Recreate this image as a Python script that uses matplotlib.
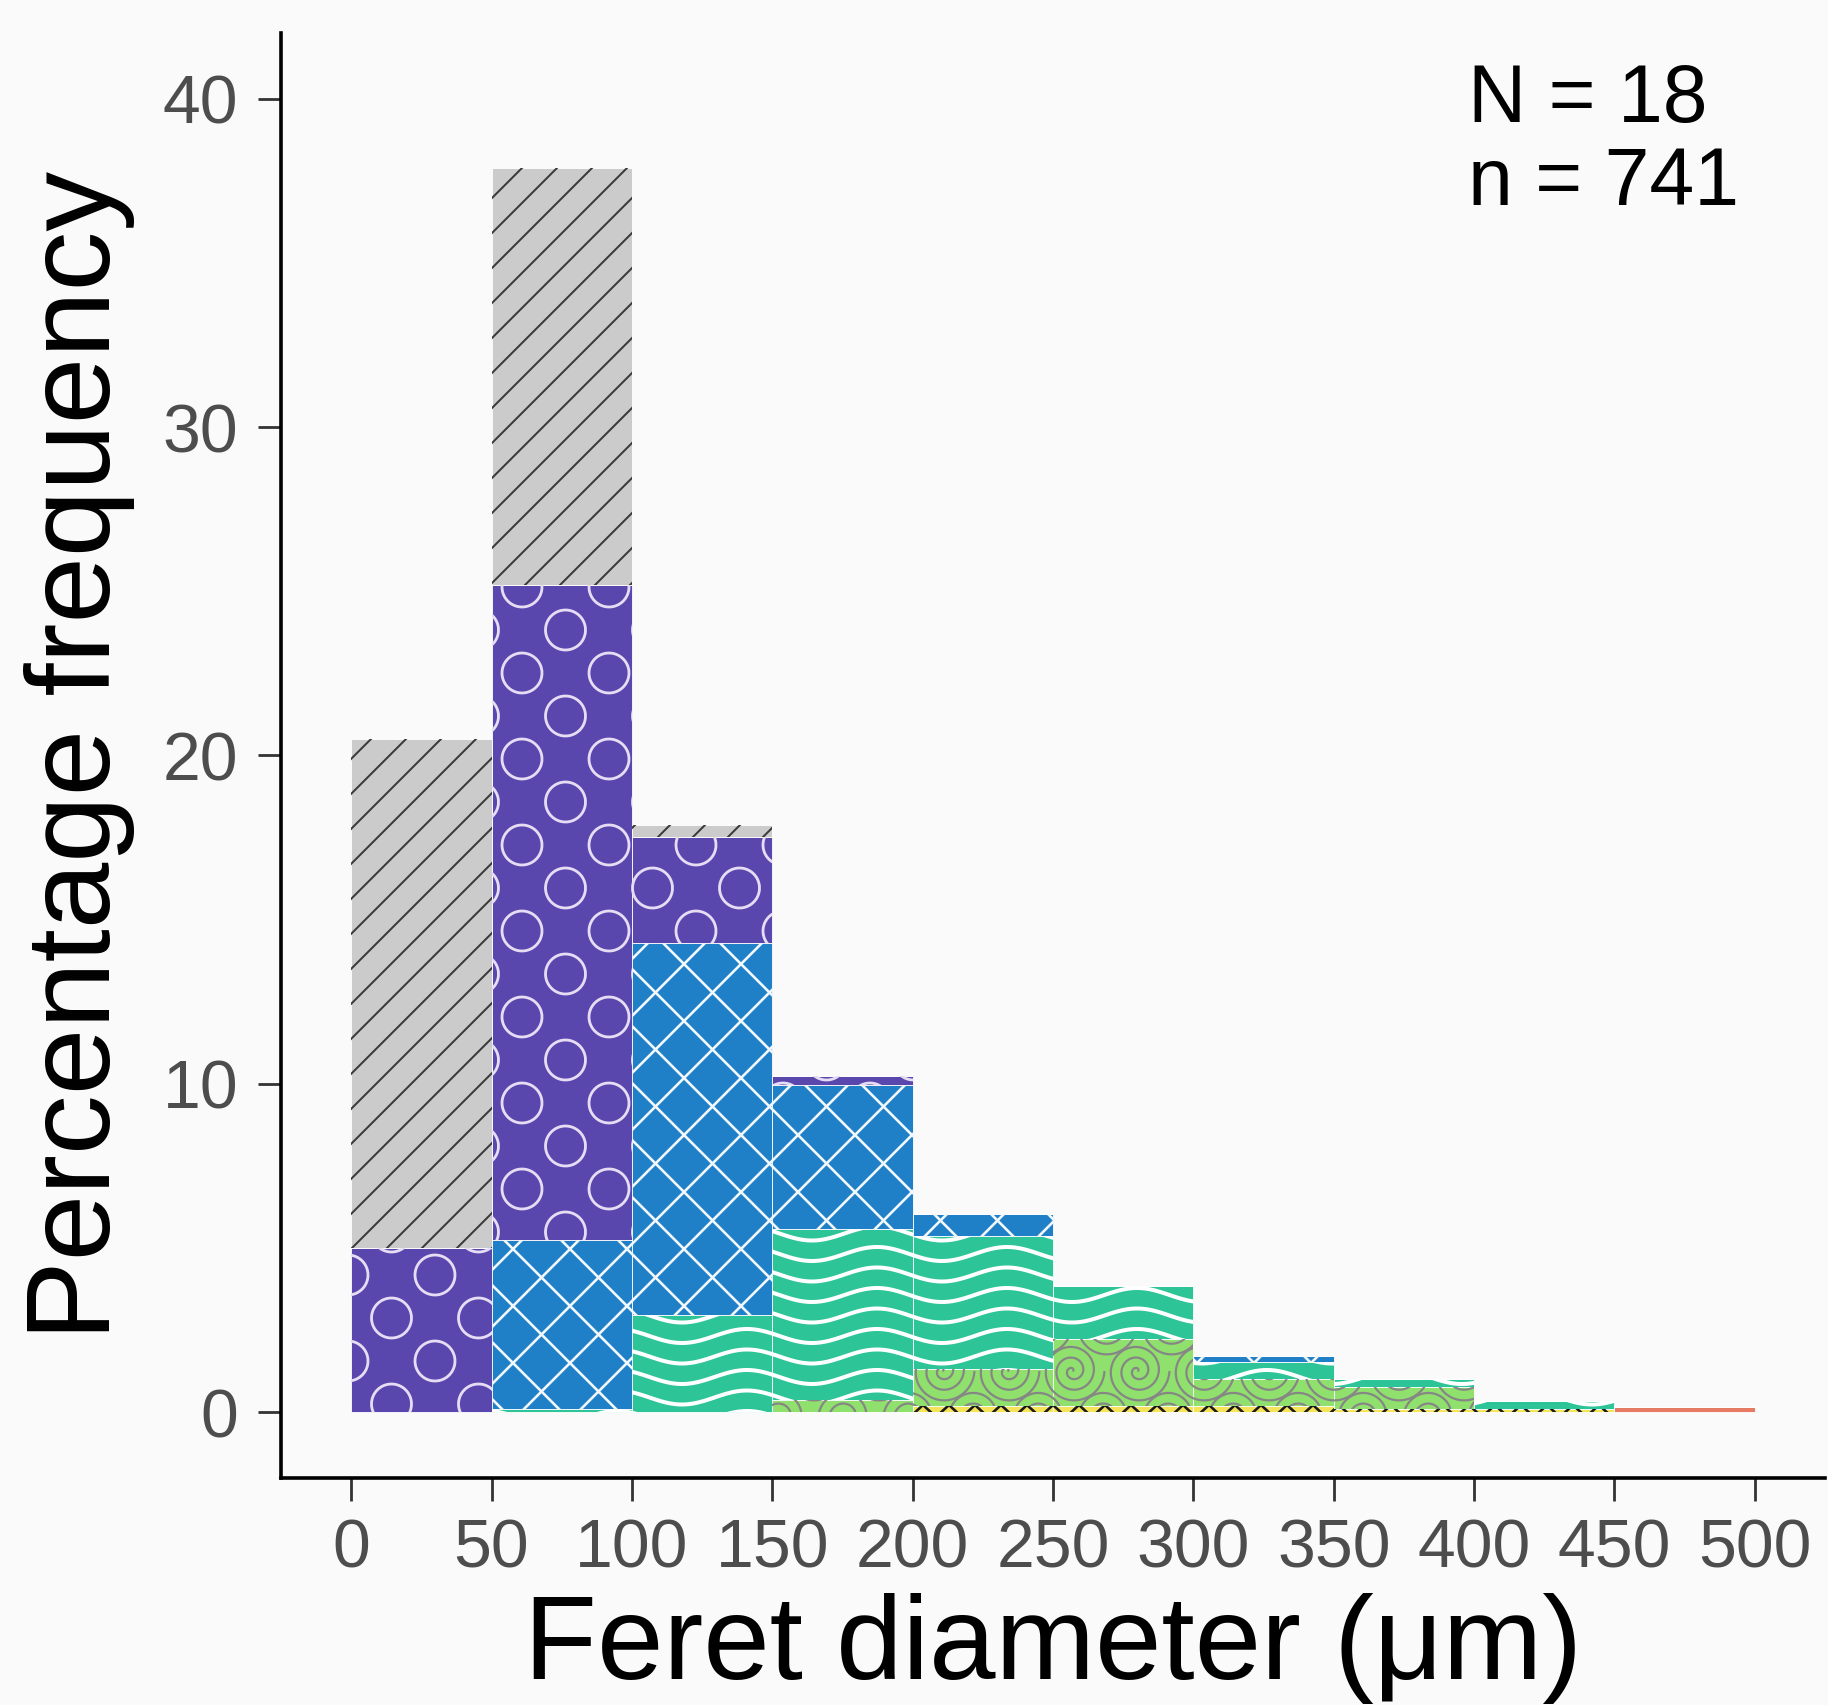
import numpy as np
import matplotlib as mpl
mpl.use('Agg')
import matplotlib.pyplot as plt
from matplotlib.collections import LineCollection
import matplotlib.transforms as mtransforms

plt.rcParams['font.family'] = ['Liberation Sans', 'DejaVu Sans']

# bins of Feret diameter (um)
bin_left = [0, 50, 100, 150, 200, 250, 300, 350, 400, 450]
bin_width = 50

# percentage frequency per class, stacked from bottom to top
red    = [0, 0, 0, 0, 0, 0, 0, 0, 0, 0.15]
yellow = [0, 0, 0, 0, 0.18, 0.18, 0.18, 0.1, 0.1, 0]
green  = [0, 0, 0, 0.38, 1.15, 2.06, 0.82, 0.68, 0, 0]
teal   = [0, 0.1, 2.97, 5.2, 4.04, 1.62, 0.53, 0.22, 0.24, 0]
blue   = [0, 5.14, 11.31, 4.4, 0.66, 0, 0.17, 0, 0, 0]
purple = [5.0, 19.96, 3.24, 0.25, 0, 0, 0, 0, 0, 0]
grey   = [15.5, 12.68, 0.37, 0, 0, 0, 0, 0, 0, 0]

N_samples = 18
n_particles = 741

# ---- pattern generators (pixel coordinates) ----
def pat_stripes(x0, y0, x1, y1, sp=35):
    segs = []
    c0 = np.floor((y0 - x1) / sp) * sp
    for c in np.arange(c0, y1 - x0 + sp, sp):
        segs.append([(x0 - 5, x0 - 5 + c), (x1 + 5, x1 + 5 + c)])
    return segs

def pat_cross(x0, y0, x1, y1, sp=57):
    segs = pat_stripes(x0, y0, x1, y1, sp)
    c0 = np.floor((y0 + x0) / sp) * sp
    for c in np.arange(c0, y1 + x1 + sp, sp):
        segs.append([(x0 - 5, c - x0 + 5), (x1 + 5, c - x1 - 5)])
    return segs

def pat_circles(x0, y0, x1, y1, dx=87, dy=43, r=20):
    segs = []
    t = np.linspace(0, 2 * np.pi, 60)
    for j in range(int(np.floor(y0 / dy)) - 1, int(np.ceil(y1 / dy)) + 2):
        off = (j % 2) * dx / 2
        for i in range(int(np.floor(x0 / dx)) - 1, int(np.ceil(x1 / dx)) + 2):
            cx, cy = i * dx + off, j * dy
            segs.append(np.column_stack([cx + r * np.cos(t), cy + r * np.sin(t)]))
    return segs

def pat_waves(x0, y0, x1, y1, sp=20.5, amp=7, per=130):
    segs = []
    xs = np.arange(x0 - 10, x1 + 12, 2.0)
    for j in range(int(np.floor(y0 / sp)) - 2, int(np.ceil(y1 / sp)) + 2):
        segs.append(np.column_stack([xs, j * sp - amp * np.cos(2 * np.pi * (xs - 812) / per)]))
    return segs

def pat_spirals(x0, y0, x1, y1, dx=65, dy=46, r=32):
    segs = []
    th = np.linspace(0, 6 * np.pi, 200)
    for j in range(int(np.floor(y0 / dy)) - 1, int(np.ceil(y1 / dy)) + 2):
        off = (j % 2) * dx / 2
        for i in range(int(np.floor(x0 / dx)) - 1, int(np.ceil(x1 / dx)) + 2):
            cx, cy = i * dx + off, j * dy + 12
            rr = r * th / th[-1]
            segs.append(np.column_stack([cx + rr * np.cos(th), cy + rr * np.sin(th)]))
    return segs

def pat_zigzag(x0, y0, x1, y1, sp=24, per=26):
    segs = []
    xs = np.arange(np.floor(x0 / per) * per - per, x1 + per, per / 2)
    for j in range(int(np.floor(y0 / sp)) - 1, int(np.ceil(y1 / sp)) + 2):
        ys = j * sp + np.where(np.arange(len(xs)) % 2 == 0, 0, sp / 2)
        segs.append(np.column_stack([xs, ys]))
    return segs

# class styles: (values, fill, pattern func, pattern colour, pattern width px)
classes = [
    (red,    '#E47B62', None,         None,      0),
    (yellow, '#F7E35A', pat_zigzag,   '#1A1A1A', 2.6),
    (green,  '#8FE06C', pat_spirals,  '#868686', 2.2),
    (teal,   '#2DC598', pat_waves,    '#FFFFFF', 4.0),
    (blue,   '#1F80C8', pat_cross,    '#F2F8FF', 2.6),
    (purple, '#5A47AD', pat_circles,  '#E6DDF5', 2.8),
    (grey,   '#CBCBCB', pat_stripes,  '#3A3A3A', 2.0),
]

DPI = 200
fig = plt.figure(figsize=(1828 / DPI, 1705 / DPI), dpi=DPI, facecolor='#FAFAFA')
ax = fig.add_axes([281 / 1828, 1 - 1478 / 1705, (1825 - 281) / 1828, (1478 - 33) / 1705])
ax.set_facecolor('#FAFAFA')
ax.set_xlim(-25, 525)
ax.set_ylim(-2, 42)

ident = mtransforms.IdentityTransform()
bottom = np.zeros(len(bin_left))
for vals, fill, pat, pcol, pw in classes:
    vals = np.array(vals, dtype=float)
    bars = ax.bar(bin_left, vals, width=bin_width, bottom=bottom, align='edge',
                  color=fill, edgecolor='white', linewidth=0.3, zorder=2)
    if pat is not None:
        for rect, v, b, xl in zip(bars, vals, bottom, bin_left):
            if v <= 0:
                continue
            (px0, py0) = ax.transData.transform((xl, b))
            (px1, py1) = ax.transData.transform((xl + bin_width, b + v))
            lc = LineCollection(pat(px0, py0, px1, py1), colors=pcol,
                                linewidths=pw * 72 / DPI, transform=ident, zorder=3)
            ax.add_collection(lc)
            lc.set_clip_path(rect)
    bottom = bottom + vals

ax.set_xticks(np.arange(0, 501, 50))
ax.set_yticks([0, 10, 20, 30, 40])
ax.tick_params(axis='both', which='both', labelsize=24.5, labelcolor='#4D4D4D',
               color='#333333', length=8.3, width=1.0)
ax.tick_params(axis='y', pad=7)
ax.tick_params(axis='x', pad=6)

for side in ['top', 'right']:
    ax.spines[side].set_visible(False)
for side in ['left', 'bottom']:
    ax.spines[side].set_linewidth(1.3)
    ax.spines[side].set_color('black')

ax.set_xlabel('Feret diameter (\u03bcm)', fontsize=43, labelpad=4)
ax.set_ylabel('Percentage frequency', fontsize=43, labelpad=10)

ax.text(398, 41.1, 'N = %d\nn = %d' % (N_samples, n_particles), ha='left', va='top',
        fontsize=29, linespacing=1.12)

fig.savefig('out.png', dpi=DPI, facecolor=fig.get_facecolor())
